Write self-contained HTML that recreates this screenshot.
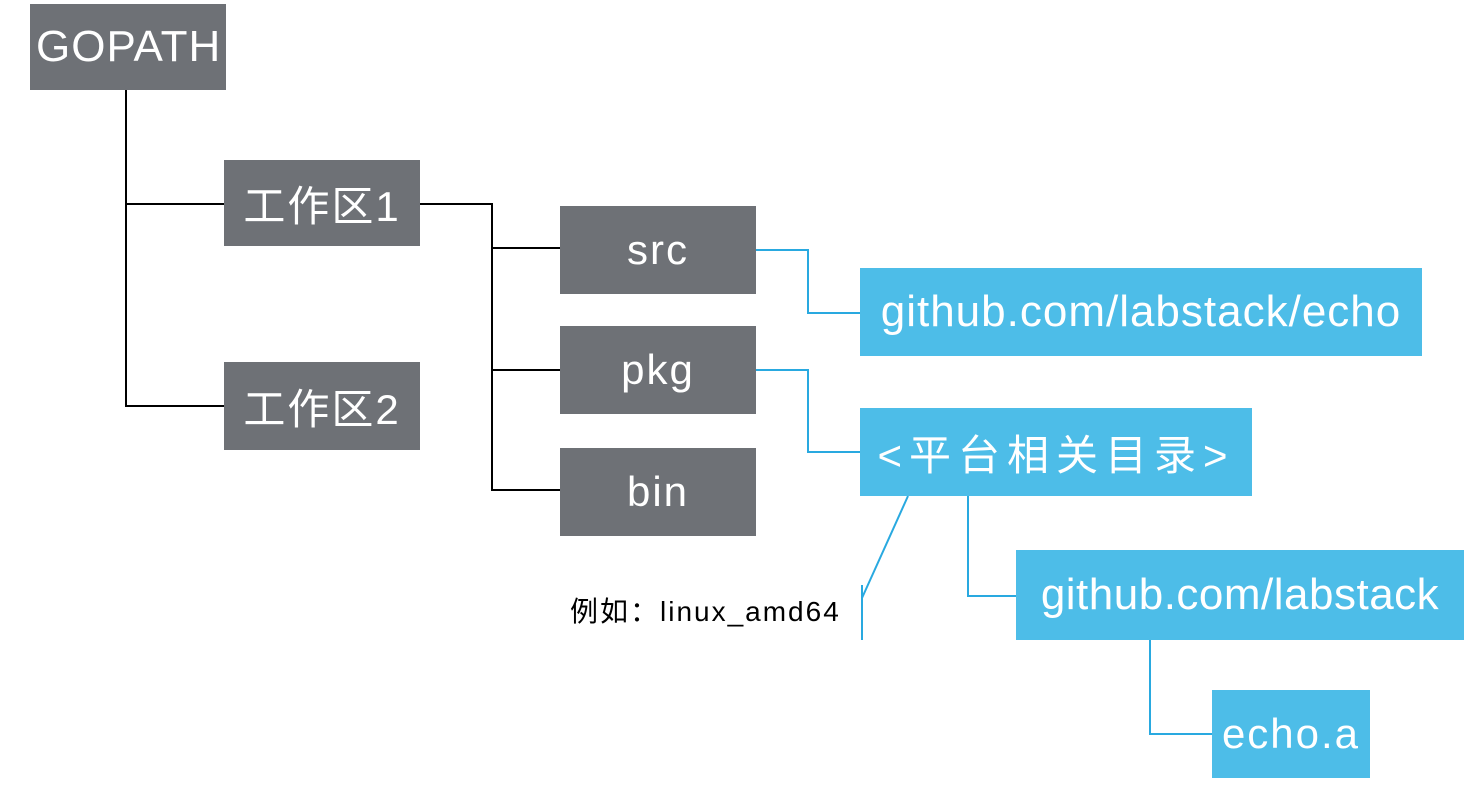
<!DOCTYPE html>
<html><head><meta charset="utf-8"><style>
html,body{margin:0;padding:0;background:#fff;}
body{width:1472px;height:797px;position:relative;overflow:hidden;font-family:"Liberation Sans","Noto Sans CJK SC",sans-serif;}
.b{position:absolute;display:flex;align-items:center;justify-content:center;color:#fff;font-size:42px;white-space:nowrap;letter-spacing:2px;}
.g{background:#6e7176;}
.c{background:#4dbde8;}
svg{position:absolute;left:0;top:0;}
</style></head><body>
<svg width="1472" height="797">
<g stroke="#000" stroke-width="2" fill="none">
<path d="M126 90V406H224M126 204H224"/>
<path d="M420 204H492V490H560M492 248H560M492 370H560"/>
</g>
<g stroke="#29a9e0" stroke-width="2" fill="none">
<path d="M756 250H808V313H860"/>
<path d="M756 370H808V452H860"/>
<path d="M968 496V596H1016"/>
<path d="M1150 640V734H1212"/>
<path d="M908 496L862 598M862 585V640"/>
</g>
</svg>
<div class="b g" style="left:30px;top:4px;width:196px;height:86px;justify-content:flex-start;padding-left:6px;box-sizing:border-box;letter-spacing:1px;font-size:44px;">GOPATH</div>
<div class="b g" style="left:224px;top:160px;width:196px;height:86px;">工作区1</div>
<div class="b g" style="left:224px;top:362px;width:196px;height:88px;">工作区2</div>
<div class="b g" style="left:560px;top:206px;width:196px;height:88px;">src</div>
<div class="b g" style="left:560px;top:326px;width:196px;height:88px;">pkg</div>
<div class="b g" style="left:560px;top:448px;width:196px;height:88px;">bin</div>
<div class="b c" style="left:860px;top:268px;width:562px;height:88px;font-size:44px;letter-spacing:1px;">github.com/labstack/echo</div>
<div class="b c" style="left:860px;top:408px;width:392px;height:88px;letter-spacing:7px;">&lt;平台相关目录&gt;</div>
<div class="b c" style="left:1016px;top:550px;width:448px;height:90px;font-size:44px;letter-spacing:0.5px;">github.com/labstack</div>
<div class="b c" style="left:1212px;top:690px;width:158px;height:88px;">echo.a</div>
<div style="position:absolute;left:570px;top:590px;font-size:28px;color:#000;letter-spacing:2px;">例如：linux_amd64</div>
</body></html>
